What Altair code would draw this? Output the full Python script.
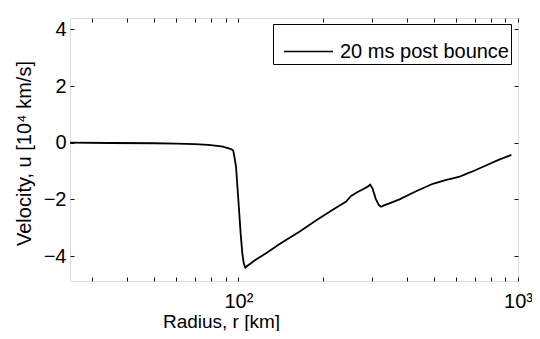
import altair as alt
import pandas as pd

# Radius [km] and velocity [10^4 km/s]
radius = [25, 35, 50, 60, 70, 78, 84, 88, 91, 93, 94.8, 95.9, 96.8, 98.1, 100.0, 101.9,
          103.3, 104.5, 105.9, 107.5, 115, 125.6, 140, 165.3, 190, 217.6, 235, 243,
          253, 266, 279, 290, 296, 302, 310, 318, 324, 330, 345, 377, 430, 496,
          554, 590, 618, 653, 700, 750, 860, 947]
velocity = [0.0, -0.01, -0.02, -0.03, -0.05, -0.08, -0.11, -0.14, -0.18, -0.21, -0.24, -0.28,
            -0.5, -0.85, -2.02, -3.2, -3.9, -4.25, -4.41, -4.35, -4.14, -3.9, -3.58, -3.14,
            -2.74, -2.37, -2.16, -2.08, -1.88, -1.75, -1.64, -1.55, -1.48, -1.62, -1.98,
            -2.2, -2.26, -2.22, -2.15, -2.0, -1.72, -1.45, -1.31, -1.25, -1.2, -1.1,
            -0.98, -0.85, -0.59, -0.43]
series = ["20 ms post bounce"] * len(radius)

x_ticks = [30, 40, 50, 60, 70, 80, 90, 100, 200, 300, 400, 500, 600, 700, 800, 900, 1000]
y_ticks = [-4, -2, 0, 2, 4]

df = pd.DataFrame({"r": radius, "u": velocity, "s": series})

FONT = "Liberation Sans"
FS = 20
AX = "#111111"

x_scale = alt.Scale(type="log", domain=[25, 1000], nice=False)
y_scale = alt.Scale(domain=[-4.88, 4.4], nice=False)

main = alt.Chart(df).mark_line(strokeWidth=1.8, clip=True).encode(
    x=alt.X("r:Q", scale=x_scale,
            axis=alt.Axis(orient="bottom", values=x_ticks, offset=-4, tickSize=4,
                          domain=False, grid=False, tickColor=AX,
                          labelExpr="datum.value == 100 ? '10²' : datum.value == 1000 ? '10³' : ''",
                          labelFontSize=FS, labelFont=FONT, labelColor="black",
                          labelPadding=10, labelFlush=False, labelOverlap=False,
                          title="Radius, r [km]", titleFont=FONT, titleFontSize=19,
                          titleFontWeight="normal", titleColor="black",
                          titleAlign="center", titleBaseline="alphabetic",
                          titleX=151, titleY=50)),
    y=alt.Y("u:Q", scale=y_scale,
            axis=alt.Axis(orient="left", values=y_ticks, offset=-4, tickSize=4,
                          domain=False, grid=False, tickColor=AX,
                          labelFontSize=FS, labelFont=FONT, labelColor="black",
                          labelPadding=4,
                          title="Velocity, u [10⁴ km/s]", titleFont=FONT, titleFontSize=FS,
                          titleFontWeight="normal", titleColor="black",
                          titleAngle=270, titleAlign="center", titleBaseline="alphabetic",
                          titleX=-44, titleY=135)),
    color=alt.Color("s:N", scale=alt.Scale(range=["black"]),
                    legend=alt.Legend(title=None, orient="none", legendX=203, legendY=6,
                                      padding=2, strokeColor="black", fillColor="white",
                                      symbolType="stroke", symbolSize=2400, symbolOffset=8,
                                      symbolStrokeWidth=1.6, labelFontSize=FS,
                                      labelFont=FONT, labelColor="black",
                                      labelOffset=6, labelLimit=0)),
)

frame = alt.Chart(df).mark_line(opacity=0).encode(
    x=alt.X("r:Q", scale=x_scale,
            axis=alt.Axis(orient="top", values=x_ticks, offset=-4, tickSize=4,
                          domain=False, grid=False, labels=False, title=None,
                          tickColor=AX)),
    y=alt.Y("u:Q", scale=y_scale,
            axis=alt.Axis(orient="right", values=y_ticks, offset=-4, tickSize=4,
                          domain=False, grid=False, labels=False, title=None,
                          tickColor=AX)),
)

chart = alt.layer(main, frame).resolve_axis(x="independent", y="independent").properties(
    width=448, height=263,
    autosize=alt.AutoSizeParams(type="none"),
    padding={"left": 62, "top": 10, "right": 14, "bottom": 50},
).configure_view(stroke=AX, strokeWidth=1.2).configure(background="white")

chart.save("out.html", embed_options={"renderer": "svg", "actions": False})
